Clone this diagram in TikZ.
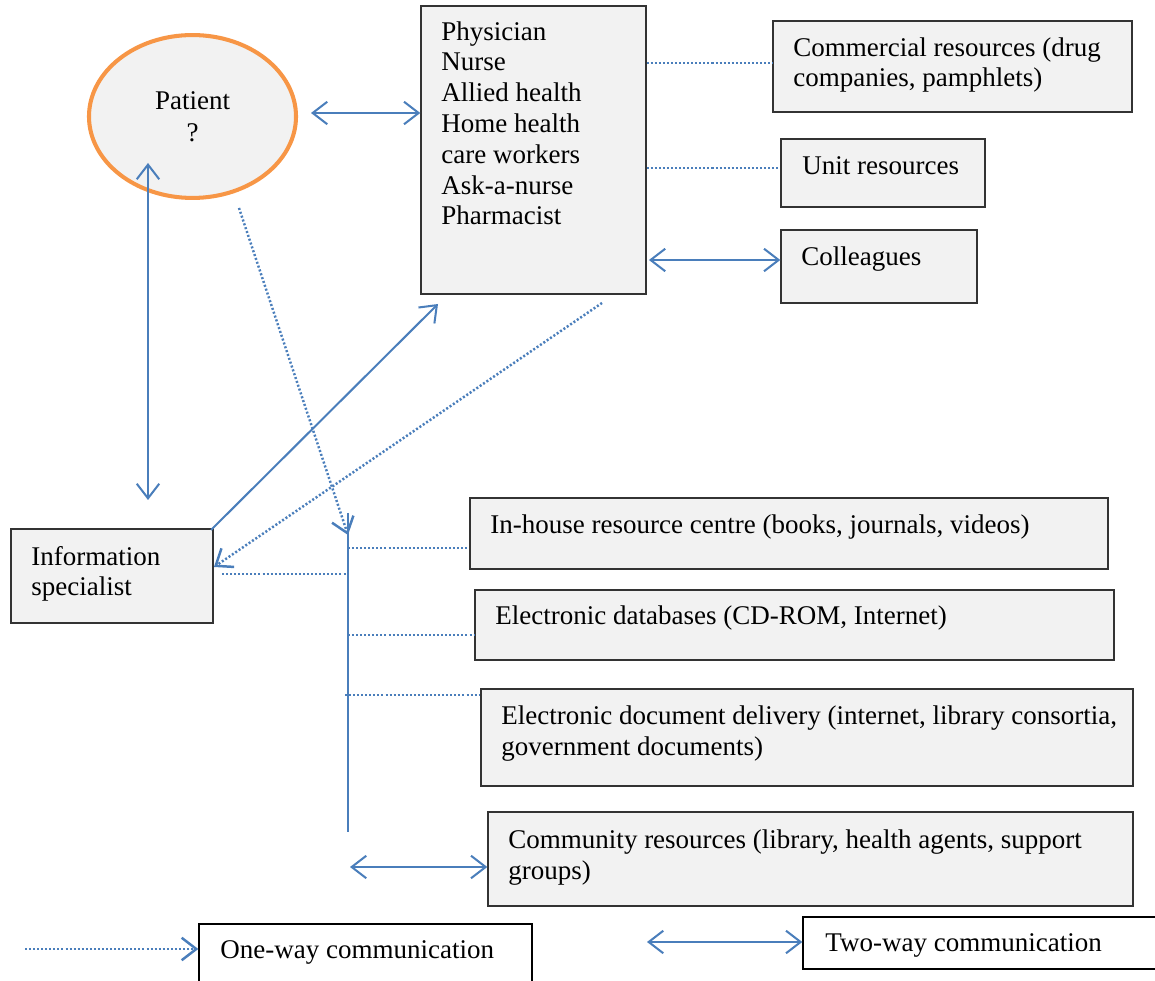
\documentclass[tikz,border=0pt]{standalone}
\usepackage{fontspec}
\setmainfont{Liberation Serif}
\usetikzlibrary{arrows.meta,shapes.geometric,fit}
\definecolor{lnblue}{HTML}{4A7EBB}
\definecolor{orng}{HTML}{F79646}
\definecolor{boxfill}{HTML}{F2F2F2}
\begin{document}
\begin{tikzpicture}[x=0.4444pt,y=-0.4444pt,
 box/.style={draw=black!80, line width=0.6pt, fill=boxfill, inner sep=0pt, rectangle},
 wbox/.style={box, fill=white, draw=black},
 txt/.style={font=\fontsize{12pt}{13.7pt}\selectfont, inner sep=0pt, anchor=base west, align=left},
 two/.style={draw=lnblue, line width=0.9pt, {Straight Barb[length=6.5pt,width=10pt]}-{Straight Barb[length=6.5pt,width=10pt]}},
 one/.style={draw=lnblue, line width=0.9pt, -{Straight Barb[length=6.5pt,width=10pt]}},
 dots/.style={draw=lnblue, line width=1.1pt, dash pattern=on 0.9pt off 0.9pt},
 dotarrow/.style={dots, -{Straight Barb[length=6.5pt,width=10pt]}},
 ]
\useasboundingbox (0,0) rectangle (1155,981);

% Patient
\node[ellipse, draw=orng, line width=1.8pt, fill=boxfill, minimum width=92pt, minimum height=72.4pt, inner sep=0pt] (pat) at (192.5,116.5) {};
\node[txt, anchor=base] (patt) at (192.5,110) {Patient};
\node[txt, anchor=base] (patq) at (192.5,142) {?};

% Physician box (multi-line texts are placed by the baseline of their last line)
\node[box, fit={(421,6) (646,294)}] (phys) {};
\node[txt] (physt) at (441,225) {Physician\\Nurse\\Allied health\\Home health\\care workers\\Ask-a-nurse\\Pharmacist};

% right boxes
\node[box, fit={(773,21) (1132,112)}] (com) {};
\node[txt] (comt) at (793,87) {Commercial resources (drug\\companies, pamphlets)};
\node[box, fit={(781,139) (985,207)}] (unit) {};
\node[txt] (unitt) at (802,175) {Unit resources};
\node[box, fit={(781,230) (977,303)}] (coll) {};
\node[txt] (collt) at (801,266) {Colleagues};

% Information specialist
\node[box, fit={(11,529) (213,623)}] (info) {};
\node[txt] (infot) at (31,596) {Information\\specialist};

% lower boxes
\node[box, fit={(470,498) (1108,569)}] (inh) {};
\node[txt] (inht) at (490,534) {In-house resource centre (books, journals, videos)};
\node[box, fit={(475,590) (1114,660)}] (edb) {};
\node[txt] (edbt) at (495,625) {Electronic databases (CD-ROM, Internet)};
\node[box, fit={(481,689) (1133,786)}] (edd) {};
\node[txt] (eddt) at (501,755) {Electronic document delivery (internet, library consortia,\\government documents)};
\node[box, fit={(488,812) (1133,906)}] (cmr) {};
\node[txt] (cmrt) at (508,879) {Community resources (library, health agents, support\\groups)};

% legend
\node[wbox, fit={(199,924) (532,995)}] (oneb) {};
\node[txt] (onet) at (220,958) {One-way communication};
\node[wbox, fit={(803,917) (1165,969)}] (twob) {};
\node[txt] (twot) at (825,951) {Two-way communication};

% coordinates for free ends
\coordinate (pp1) at (311,113);
\coordinate (pv1) at (148,163);
\coordinate (pv2) at (148,500);
\coordinate (is1) at (211,530);
\coordinate (ph1) at (438,304);
\coordinate (ph2) at (602,303);
\coordinate (is2) at (214,567);
\coordinate (pd1) at (239,208);
\coordinate (vtip) at (348,535);
\coordinate (vtop) at (348,513);
\coordinate (vbot) at (348,832);
\coordinate (is3) at (222,574);
\coordinate (v574) at (348,574);
\coordinate (cm1) at (350,867);
\coordinate (lg1) at (25,949);
\coordinate (lg2) at (647,942);

% connectors
\draw[two] (pp1) -- (phys.west |- pp1);
\draw[dots] (phys.east |- 0,63) -- (com.west |- 0,63);
\draw[dots] (phys.east |- 0,168) -- (unit.west |- 0,168);
\draw[two] ([xshift=1pt]phys.east |- 0,260) -- (coll.west |- 0,260);
\draw[two] (pv1) -- (pv2);
\draw[one] (is1) -- (ph1);
\draw[dotarrow] (ph2) -- (is2);
\draw[dotarrow] (pd1) -- (vtip);
\draw[draw=lnblue, line width=0.7pt] (vtop) -- (vbot);
\draw[dots] (is3) -- (v574);
\draw[dots] (348,548) -- (inh.west |- 0,548);
\draw[dots] (348,635) -- (edb.west |- 0,635);
\draw[dots] (345,695) -- (edd.west |- 0,695);
\draw[two] (cm1) -- (cmr.west |- cm1);
\draw[dotarrow] (lg1) -- (oneb.west |- lg1);
\draw[two] (lg2) -- (twob.west |- lg2);
\end{tikzpicture}
\end{document}
